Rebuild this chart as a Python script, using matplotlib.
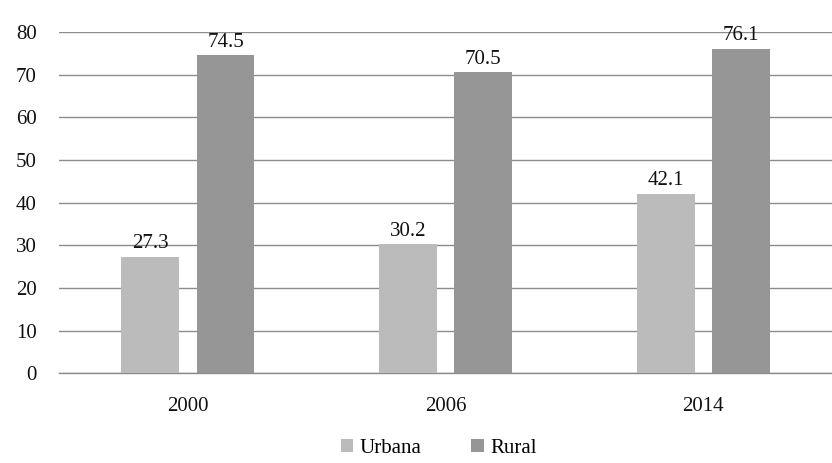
import matplotlib
matplotlib.use("Agg")
import matplotlib.pyplot as plt
import numpy as np

years = ["2000", "2006", "2014"]
urbana = [27.3, 30.2, 42.1]
rural = [74.5, 70.5, 76.1]
yticks = [0, 10, 20, 30, 40, 50, 60, 70, 80]

plt.rcParams['font.family'] = ['Liberation Serif', 'DejaVu Serif']
fs = 15

fig = plt.figure(figsize=(8.32, 4.63), dpi=100)
ax = fig.add_axes([0.071, 0.194, 0.929, 0.737])

x = np.arange(len(years))
w = 0.225
off = 0.146
c_urb = "#bbbbbb"
c_rur = "#969696"

b1 = ax.bar(x - off, urbana, w, color=c_urb, label="Urbana", zorder=3)
b2 = ax.bar(x + off, rural, w, color=c_rur, label="Rural", zorder=3)

for bars, vals in ((b1, urbana), (b2, rural)):
    for r, v in zip(bars, vals):
        ax.text(r.get_x() + r.get_width() / 2, v + 0.9, f"{v:.1f}",
                ha="center", va="bottom", fontsize=fs, color="#111111", zorder=4)

ax.set_xlim(-0.5, 2.5)
ax.set_ylim(0, 80)
ax.set_yticks(yticks)
ax.set_yticklabels([str(t) for t in yticks], fontsize=fs)
ax.set_xticks(x)
ax.set_xticklabels(years, fontsize=fs)
ax.tick_params(axis="both", length=0, colors="#111111")
ax.tick_params(axis="x", pad=17)
ax.tick_params(axis="y", pad=16)
ax.yaxis.grid(True, color="#8c8c8c", linewidth=1.0, zorder=0)
for s in ("top", "right", "left"):
    ax.spines[s].set_visible(False)
ax.spines["bottom"].set_color("#8c8c8c")
ax.spines["bottom"].set_linewidth(1.0)

fig.legend(handles=[b1, b2], labels=["Urbana", "Rural"], loc="lower center",
           bbox_to_anchor=(0.527, -0.03), ncol=2, frameon=False, fontsize=fs,
           handlelength=0.6, handleheight=0.6, handletextpad=0.3,
           columnspacing=2.4)

fig.savefig("out.png", dpi=100)
